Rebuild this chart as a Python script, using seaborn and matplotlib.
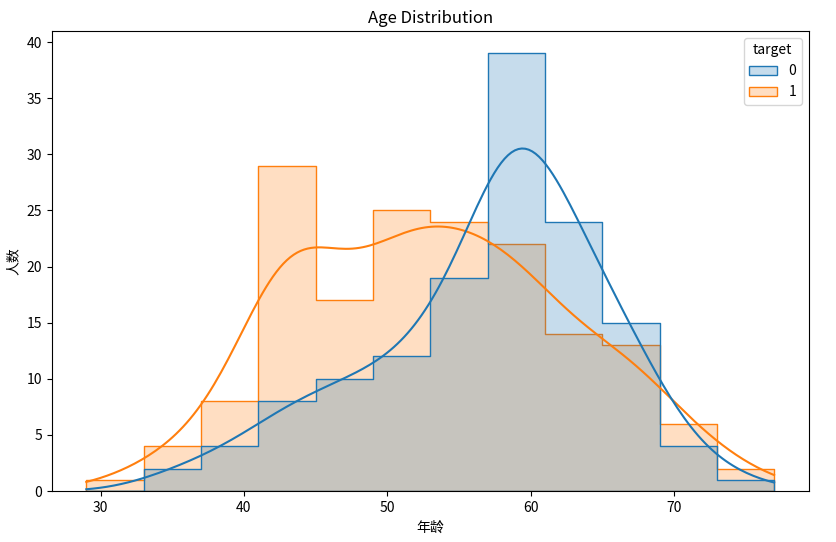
import numpy as np
import pandas as pd
import matplotlib
matplotlib.use("Agg")
import matplotlib.pyplot as plt
import seaborn as sns

# bin edges and counts (width 4, 29..77)
bin_edges = [29, 33, 37, 41, 45, 49, 53, 57, 61, 65, 69, 73, 77]
counts_0 = [0, 2, 4, 8, 10, 12, 19, 39, 24, 15, 4, 1]
counts_1 = [1, 4, 8, 29, 17, 25, 24, 22, 14, 13, 6, 2]

centers = [(a + b) / 2 for a, b in zip(bin_edges[:-1], bin_edges[1:])]
df = pd.DataFrame({
    "age": centers * 2,
    "n": counts_0 + counts_1,
    "target": [0] * len(centers) + [1] * len(centers),
})

plt.rcParams['font.family'] = ['Noto Sans CJK SC', 'DejaVu Sans']
plt.rcParams['axes.unicode_minus'] = False

fig = plt.figure(figsize=(8.37, 5.42), dpi=100)
ax = fig.add_axes([0.062, 0.094, 0.904, 0.849])

# weighted kde uses an effective n, so narrow the bandwidth to match raw data
sns.histplot(
    data=df, x="age", weights="n", hue="target",
    bins=bin_edges, element="step", kde=True,
    kde_kws={"clip": (29, 77), "cut": 3, "bw_adjust": 0.5},
    palette=["#1f77b4", "#ff7f0e"], ax=ax,
)

ax.set_title("Age Distribution", fontsize=12)
ax.set_xlabel("年龄")
ax.set_ylabel("人数")
ax.set_xlim(26.6, 79.4)
ax.set_ylim(0, 41)

fig.savefig("out.png", dpi=100)
